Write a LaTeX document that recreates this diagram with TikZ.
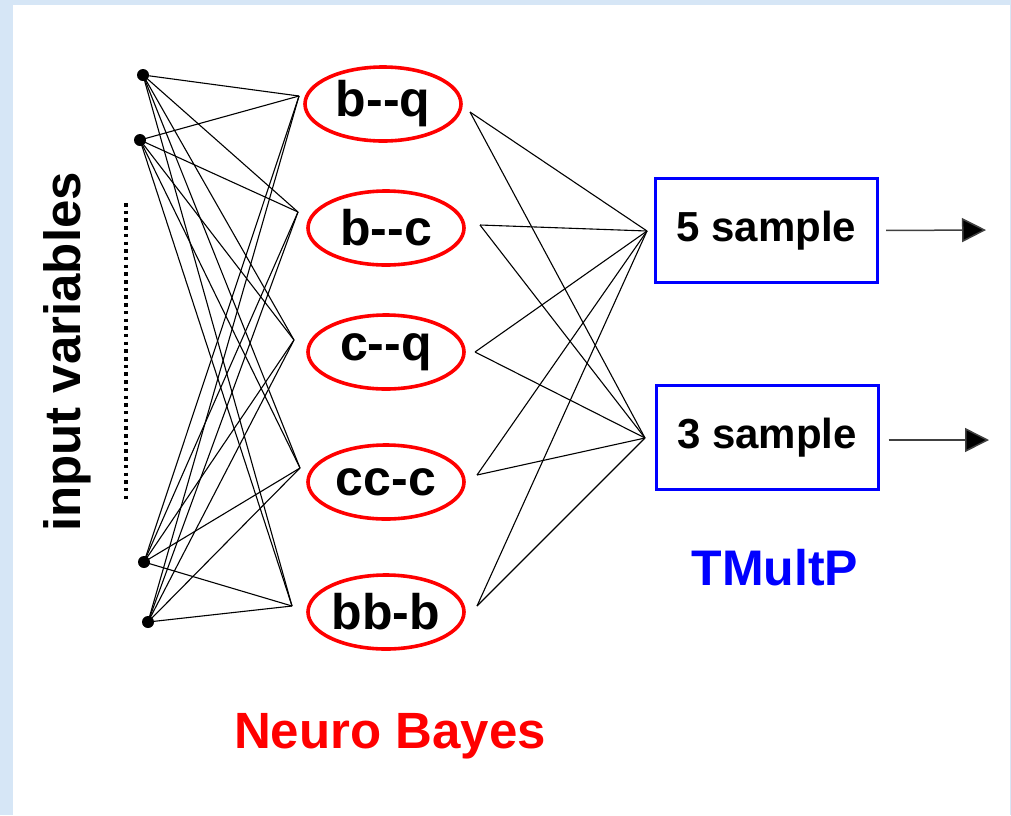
\documentclass[tikz,border=0pt]{standalone}
\usepackage{fontspec}
\setmainfont{Liberation Sans}[Ligatures=NoCommon]
\usetikzlibrary{shapes.geometric,arrows.meta}
\definecolor{bgblue}{RGB}{214,230,246}
\definecolor{nbred}{RGB}{255,0,0}
\definecolor{tmblue}{RGB}{0,0,255}
\tikzset{
  indot/.style={circle,fill=black,inner sep=0pt,minimum size=12pt},
  nbnode/.style={ellipse,draw=nbred,line width=3.6pt,minimum width=156pt,minimum height=74pt,inner sep=0pt,font=\fontsize{50}{52}\selectfont\bfseries},
  tmbox/.style={rectangle,draw=tmblue,line width=3pt,minimum width=222pt,minimum height=104pt,inner sep=0pt,font=\fontsize{42}{44}\selectfont\bfseries},
  wire/.style={draw=black,line width=1.1pt},
  outarr/.style={draw=black!75,line width=1.5pt,-{Triangle[length=24pt,width=24pt,fill=black]}},
}
\begin{document}
\begin{tikzpicture}[x=1pt,y=-1pt]
\useasboundingbox (0,0) rectangle (1011,815);
\fill[bgblue] (0,0) rectangle (1011,815);
\fill[white] (13,5) rectangle (1010,815);
% input dots
\node[indot] (i1) at (143,75) {};
\node[indot] (i2) at (140,140) {};
\node[indot] (i3) at (144,562) {};
\node[indot] (i4) at (148,622) {};
% dotted line
\coordinate (d1) at (126,203);
\coordinate (d2) at (126,502);
\draw[line width=3.5pt,dash pattern=on 3.5pt off 4.2pt] (d1) -- (d2);
% input variables label
\node[rotate=90,anchor=base,font=\fontsize{51}{54}\selectfont\bfseries] (lbl) at (80,352) {input variables};
% ellipses
\node[nbnode] (e1) at (383,104) {b-{}-q};
\node[nbnode] (e2) at (386,228) {b-{}-c};
\node[nbnode] (e3) at (386,352) {c-{}-q};
\node[nbnode] (e4) at (386,482) {cc-c};
\node[nbnode] (e5) at (386,612) {bb-b};
% left meeting points
\coordinate (l1) at (299,96);
\coordinate (l2) at (298,212);
\coordinate (l3) at (294,340);
\coordinate (l4) at (300,468);
\coordinate (l5) at (292,606);
% right meeting points
\coordinate (r1) at (470,112);
\coordinate (r2) at (480,225);
\coordinate (r3) at (475,352);
\coordinate (r4) at (477,475);
\coordinate (r5) at (477,606);
% boxes
\node[tmbox] (b5) at (766.5,230.5) {5 sample};
\node[tmbox] (b3) at (767,437.5) {3 sample};
\coordinate (c5) at (647,231);
\coordinate (c3) at (645,438);
% input wires
\foreach \i in {i1,i2,i3,i4}{
  \foreach \l in {l1,l2,l3,l4,l5}{
    \draw[wire] (\i.center) -- (\l);
  }
}
% output wires
\foreach \r in {r1,r2,r3,r4,r5}{
  \draw[wire] (\r) -- (c5);
  \draw[wire] (\r) -- (c3);
}
% arrows
\coordinate (o5) at (986,230);
\coordinate (o3) at (989,440);
\draw[outarr,shorten <=7pt] (b5.east) -- (o5);
\draw[outarr,shorten <=9pt] (b3.east |- o3) -- (o3);
% titles
\node[anchor=base,text=tmblue,font=\fontsize{50}{52}\selectfont\bfseries] (tm) at (775,585) {TMultP};
\node[anchor=base,text=nbred,font=\fontsize{51}{54}\selectfont\bfseries] (nb) at (390,748) {Neuro Bayes};
\end{tikzpicture}
\end{document}
